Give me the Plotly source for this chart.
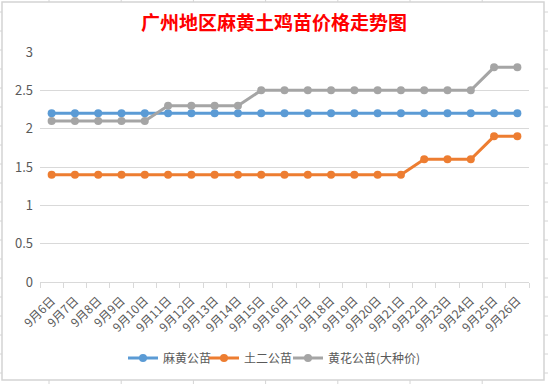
import plotly.graph_objects as go

categories = [f"9月{d}日" for d in range(6, 27)]
mahuang = [2.2] * 21
tuer = [1.4] * 16 + [1.6, 1.6, 1.6, 1.9, 1.9]
huanghua = [2.1] * 5 + [2.3] * 4 + [2.5] * 10 + [2.8, 2.8]
names = ["麻黄公苗", "土二公苗", "黄花公苗(大种价)"]
colors = ["#5b9bd5", "#ed7d31", "#a5a5a5"]

W, H = 548, 384
L, R, T, B = 40, 19, 52, 102
PW, PH = W - L - R, H - T - B

def px(x):
    return (x - L) / PW

def py(y):
    return (H - B - y) / PH

legend_ids = ["legend", "legend2", "legend3"]
legend_left = [123, 204, 288]

fig = go.Figure()
for name, vals, c, lg in zip(names, [mahuang, tuer, huanghua], colors, legend_ids):
    fig.add_trace(go.Scatter(
        x=categories, y=vals, name=name, mode="lines+markers",
        line=dict(color=c, width=3), marker=dict(color=c, size=8), legend=lg,
    ))

shapes = [dict(type="rect", xref="paper", yref="paper",
               x0=px(2), x1=px(544), y0=py(380), y1=py(2),
               line=dict(color="#d4d4d4", width=1.5), layer="below")]
# spreadsheet grid stubs outside the chart area
for k in range(7):
    xx = px(49 + 72.2 * k)
    shapes.append(dict(type="line", xref="paper", yref="paper", x0=xx, x1=xx,
                       y0=py(0), y1=py(2), line=dict(color="#d4d4d4", width=1)))
    shapes.append(dict(type="line", xref="paper", yref="paper", x0=xx, x1=xx,
                       y0=py(380), y1=py(384), line=dict(color="#d4d4d4", width=1)))
for k in range(20):
    yy = py(12 + 19 * k)
    if yy < py(380):
        continue
    shapes.append(dict(type="line", xref="paper", yref="paper", x0=px(0), x1=px(2),
                       y0=yy, y1=yy, line=dict(color="#d4d4d4", width=1)))
    shapes.append(dict(type="line", xref="paper", yref="paper", x0=px(544), x1=px(548),
                       y0=yy, y1=yy, line=dict(color="#d4d4d4", width=1)))

legend_common = dict(orientation="h", xanchor="left", y=py(358), yanchor="middle",
                     font=dict(size=12, color="#595959"), itemwidth=30,
                     bgcolor="rgba(0,0,0,0)")
layout_legends = {lg: dict(legend_common, x=px(xl)) for lg, xl in zip(legend_ids, legend_left)}

fig.update_layout(
    width=W, height=H,
    margin=dict(l=L, r=R, t=T, b=B, autoexpand=False),
    paper_bgcolor="white", plot_bgcolor="white",
    font=dict(family="Noto Sans CJK SC, DejaVu Sans", color="#595959", size=12),
    title=dict(text="<b>广州地区麻黄土鸡苗价格走势图</b>", x=0.5, xref="container",
               y=1 - 23 / H, yanchor="middle", xanchor="center",
               font=dict(size=19, color="#ff0000"), automargin=False),
    showlegend=True,
    shapes=shapes,
    **layout_legends,
)
fig.update_xaxes(type="category", tickangle=-45, showgrid=False, showline=True,
                 linecolor="#d9d9d9", linewidth=1, ticks="outside", tickson="boundaries",
                 ticklen=5, tickcolor="#d9d9d9", tickfont=dict(size=12, color="#595959"),
                 range=[-0.5, 20.5], automargin=False, ticklabelstandoff=6)
fig.update_yaxes(range=[0, 3], dtick=0.5, showgrid=True, gridcolor="#d9d9d9",
                 gridwidth=1, zeroline=False, showline=False, automargin=False,
                 tickfont=dict(size=13, color="#595959"), ticklabelstandoff=6)

fig.write_html("out.html", config={"displayModeBar": False},
               post_script="document.body.style.margin='0';document.body.style.overflow='hidden';")
